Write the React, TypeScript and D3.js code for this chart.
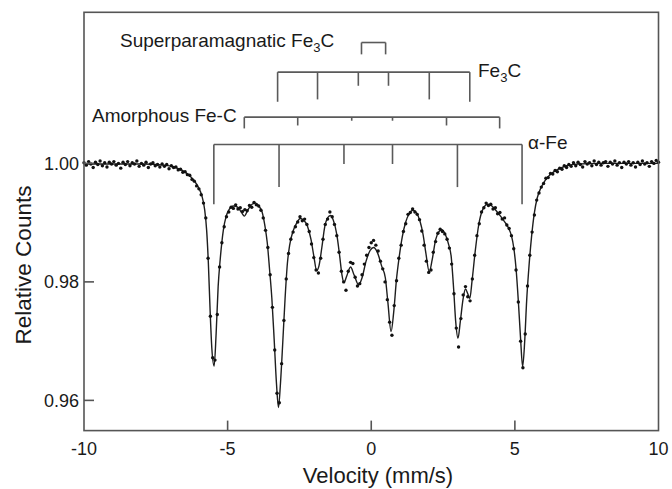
import React from 'react';
import * as d3 from 'd3';

// Velocity channels (mm/s): start + index * step
const velocityStart = -10;
const velocityStep = 0.08;

// Measured relative counts (dots), one per channel
const counts: number[] = [
  1.0001, 0.9997, 1.0003, 0.9999, 0.9993, 1.0002, 0.9998, 1.0004, 0.9996, 1.0001,
  0.9994, 1.0002, 0.9999, 1.0003, 0.9997, 1.0000, 0.9992, 1.0002, 0.9998, 1.0003,
  0.9996, 1.0001, 0.9999, 1.0004, 0.9995, 1.0000, 0.9997, 1.0002, 0.9993, 0.9999,
  1.0001, 0.9996, 0.9998, 0.9994, 0.9999, 0.9995, 0.9998, 0.9991, 0.9996, 0.9993,
  0.9994, 0.9989, 0.9990, 0.9985, 0.9986, 0.9981, 0.9980, 0.9973, 0.9970, 0.9962,
  0.9957, 0.9947, 0.9933, 0.9908, 0.9840, 0.9742, 0.9672, 0.9668, 0.9745, 0.9825,
  0.9866, 0.9893, 0.9910, 0.9918, 0.9926, 0.9924, 0.9930, 0.9923, 0.9925, 0.9919,
  0.9922, 0.9920, 0.9929, 0.9926, 0.9934, 0.9930, 0.9928, 0.9921, 0.9908, 0.9887,
  0.9858, 0.9812, 0.9757, 0.9685, 0.9612, 0.9596, 0.9662, 0.9735, 0.9805, 0.9848,
  0.9872, 0.9884, 0.9893, 0.9901, 0.9910, 0.9903, 0.9906, 0.9897, 0.9885, 0.9864,
  0.9841, 0.9820, 0.9815, 0.9840, 0.9872, 0.9897, 0.9906, 0.9918, 0.9910, 0.9897,
  0.9878, 0.9850, 0.9818, 0.9800, 0.9786, 0.9818, 0.9833, 0.9831, 0.9808, 0.9793,
  0.9797, 0.9812, 0.9830, 0.9845, 0.9858, 0.9866, 0.9870, 0.9862, 0.9852, 0.9835,
  0.9822, 0.9800, 0.9770, 0.9732, 0.9710, 0.9760, 0.9802, 0.9840, 0.9862, 0.9885,
  0.9898, 0.9914, 0.9917, 0.9923, 0.9918, 0.9914, 0.9905, 0.9886, 0.9862, 0.9835,
  0.9816, 0.9820, 0.9850, 0.9868, 0.9882, 0.9889, 0.9885, 0.9881, 0.9872, 0.9857,
  0.9830, 0.9780, 0.9722, 0.9690, 0.9738, 0.9778, 0.9792, 0.9775, 0.9768, 0.9805,
  0.9845, 0.9878, 0.9898, 0.9918, 0.9925, 0.9933, 0.9929, 0.9931, 0.9923, 0.9925,
  0.9915, 0.9917, 0.9906, 0.9908, 0.9896, 0.9890, 0.9878, 0.9856, 0.9820, 0.9766,
  0.9700, 0.9655, 0.9712, 0.9793, 0.9845, 0.9884, 0.9913, 0.9938, 0.9950, 0.9960,
  0.9966, 0.9975, 0.9976, 0.9983, 0.9982, 0.9988, 0.9986, 0.9992, 0.9990, 0.9996,
  0.9993, 0.9998, 0.9995, 1.0001, 0.9996, 1.0002, 0.9998, 0.9994, 1.0003, 0.9999,
  1.0001, 0.9996, 1.0004, 0.9998, 1.0002, 0.9997, 1.0001, 1.0003, 0.9995, 1.0002,
  0.9999, 1.0004, 0.9997, 1.0001, 0.9993, 1.0002, 0.9999, 1.0003, 0.9997, 1.0001,
  0.9994, 1.0002, 0.9998, 1.0004, 0.9999, 1.0001, 0.9995, 1.0003, 1.0000, 1.0005,
  1.0002,
];

// Fitted spectrum [velocity, relative counts]
const fitCurve: [number, number][] = [
  [-10, 0.9999], [-8, 0.9999], [-7.2, 0.9997], [-6.8, 0.9993], [-6.5, 0.9986], [-6.2, 0.9973],
  [-6.0, 0.9958], [-5.9, 0.9946], [-5.8, 0.9922], [-5.73, 0.9887], [-5.67, 0.9831], [-5.61, 0.9752],
  [-5.55, 0.9688], [-5.47, 0.9658], [-5.40, 0.9713], [-5.33, 0.9792], [-5.26, 0.9837], [-5.15, 0.9887],
  [-5.05, 0.9911], [-4.95, 0.9922], [-4.8, 0.9928], [-4.65, 0.9926], [-4.5, 0.9916], [-4.42, 0.9911],
  [-4.3, 0.9921], [-4.15, 0.9931], [-4.02, 0.9933], [-3.9, 0.9927], [-3.8, 0.9918], [-3.7, 0.9894],
  [-3.62, 0.9866], [-3.54, 0.9821], [-3.46, 0.9772], [-3.38, 0.9703], [-3.30, 0.9629], [-3.23, 0.9588],
  [-3.16, 0.9629], [-3.08, 0.9698], [-3.0, 0.9772], [-2.92, 0.9831], [-2.84, 0.9862], [-2.72, 0.9886],
  [-2.6, 0.9899], [-2.47, 0.9907], [-2.35, 0.9904], [-2.22, 0.9894], [-2.1, 0.9872], [-2.0, 0.9844],
  [-1.9, 0.9819], [-1.82, 0.9827], [-1.72, 0.9858], [-1.62, 0.9893], [-1.52, 0.9908], [-1.42, 0.9912],
  [-1.32, 0.9904], [-1.2, 0.9880], [-1.1, 0.9844], [-1.02, 0.9812], [-0.95, 0.9799], [-0.86, 0.9809],
  [-0.72, 0.9825], [-0.6, 0.9812], [-0.44, 0.9795], [-0.32, 0.9807], [-0.18, 0.9835], [-0.04, 0.9853],
  [0.08, 0.9858], [0.22, 0.9849], [0.36, 0.9827], [0.49, 0.9807], [0.58, 0.9765], [0.69, 0.9716],
  [0.78, 0.9748], [0.88, 0.9805], [0.97, 0.9841], [1.08, 0.9876], [1.2, 0.9901], [1.32, 0.9915],
  [1.45, 0.9921], [1.58, 0.9916], [1.70, 0.9902], [1.80, 0.9881], [1.90, 0.9849], [2.02, 0.9817],
  [2.12, 0.9837], [2.24, 0.9871], [2.36, 0.9885], [2.46, 0.9888], [2.58, 0.9880], [2.70, 0.9862],
  [2.78, 0.9844], [2.87, 0.9787], [2.94, 0.9733], [3.02, 0.9705], [3.10, 0.9733], [3.20, 0.9772],
  [3.28, 0.9788], [3.36, 0.9780], [3.43, 0.9772], [3.51, 0.9802], [3.62, 0.9852], [3.74, 0.9896],
  [3.88, 0.9922], [4.05, 0.9931], [4.2, 0.9928], [4.35, 0.9920], [4.5, 0.9911], [4.65, 0.9901],
  [4.78, 0.9891], [4.88, 0.9878], [4.96, 0.9858], [5.04, 0.9823], [5.12, 0.9768], [5.20, 0.9703],
  [5.27, 0.9657], [5.34, 0.9698], [5.41, 0.9768], [5.48, 0.9819], [5.58, 0.9876], [5.68, 0.9917],
  [5.78, 0.9942], [5.9, 0.9958], [6.05, 0.9971], [6.25, 0.9982], [6.5, 0.9990], [6.8, 0.9996],
  [7.2, 0.9999], [8, 1.0000], [10, 1.0000],
];

// Axis ticks
const xTicks = [-10, -5, 0, 5, 10];
const yTicks = [0.96, 0.98, 1.0];

// Component line positions (mm/s) and stick-diagram levels (relative counts)
const superparaLines = [-0.34, 0.5];
const superparaTop = 1.0204;
const superparaEnds = [1.0184, 1.0184];

const fe3cLines = [-3.26, -1.87, -0.45, 0.6, 2.02, 3.43];
const fe3cTop = 1.0154;
const fe3cEnds = [1.0104, 1.0108, 1.0131, 1.0131, 1.0108, 1.0104];

const amorphousLines = [-4.42, -2.56, -0.68, 0.74, 2.62, 4.47];
const amorphousTop = 1.0078;
const amorphousEnds = [1.0059, 1.0064, 1.0072, 1.0072, 1.0064, 1.0059];

const alphaFeLines = [-5.48, -3.21, -0.95, 0.74, 3.0, 5.25];
const alphaFeTop = 1.0032;
const alphaFeEnds = [0.9931, 0.996, 0.9999, 0.9999, 0.996, 0.9931];

const FONT = '"Liberation Sans", Arial, Helvetica, sans-serif';

export default function App() {
  const W = 672;
  const H = 489;
  const x = d3.scaleLinear().domain([-10, 10]).range([84, 658.5]);
  const y = d3.scaleLinear().domain([0.9549, 1.0255]).range([430.6, 12.3]);

  const line = d3
    .line<[number, number]>()
    .x((d) => x(d[0]))
    .y((d) => y(d[1]))
    .curve(d3.curveMonotoneX);

  const dots = counts.map((c, i) => [velocityStart + i * velocityStep, c] as [number, number]);

  const stick = (lines: number[], top: number, ends: number[], key: string) => {
    const x0 = x(lines[0]);
    const x1 = x(lines[lines.length - 1]);
    const yt = y(top);
    return (
      <g key={key} stroke="#5a5a5a" strokeWidth={1.6} fill="none">
        <line x1={x0} x2={x1} y1={yt} y2={yt} />
        {lines.map((v, i) => (
          <line key={i} x1={x(v)} x2={x(v)} y1={yt} y2={y(ends[i])} />
        ))}
      </g>
    );
  };

  const [xl, xr] = x.range();
  const [yb, yt] = y.range();

  return (
    <svg
      width={W}
      height={H}
      style={{ position: 'absolute', left: 0, top: 0, background: '#fff' }}
      fontFamily={FONT}
    >
      <rect x={0} y={0} width={W} height={H} fill="#fff" />

      {/* fit line */}
      <path d={line(fitCurve) || ''} fill="none" stroke="#1e1e1e" strokeWidth={1.4} />

      {/* data dots */}
      <g fill="#111">
        {dots.map((d, i) => (
          <circle key={i} cx={x(d[0])} cy={y(d[1])} r={1.7} />
        ))}
      </g>

      {/* frame */}
      <rect
        x={xl}
        y={yt}
        width={xr - xl}
        height={yb - yt}
        fill="none"
        stroke="#555"
        strokeWidth={1.6}
      />

      {/* ticks */}
      <g stroke="#555" strokeWidth={1.6}>
        {xTicks
          .filter((t) => t !== -10 && t !== 10)
          .map((t) => (
            <line key={t} x1={x(t)} x2={x(t)} y1={yb} y2={yb - 10} />
          ))}
        {yTicks.map((t) => (
          <line key={t} x1={xl} x2={xl + 10} y1={y(t)} y2={y(t)} />
        ))}
      </g>
      <g fontSize={18} fill="#1a1a1a" textAnchor="middle">
        {xTicks.map((t) => (
          <text key={t} x={x(t)} y={455}>
            {t}
          </text>
        ))}
      </g>
      <g fontSize={18} fill="#1a1a1a" textAnchor="end">
        {yTicks.map((t) => (
          <text key={t} x={79} y={y(t)} dy="0.35em">
            {t.toFixed(2)}
          </text>
        ))}
      </g>

      {/* axis titles */}
      <text x={378} y={483} fontSize={22} textAnchor="middle" fill="#1a1a1a">
        Velocity (mm/s)
      </text>
      <text
        transform="translate(31,265) rotate(-90)"
        fontSize={22.5}
        textAnchor="middle"
        fill="#1a1a1a"
      >
        Relative Counts
      </text>

      {/* stick diagrams */}
      {stick(superparaLines, superparaTop, superparaEnds, 'sp')}
      {stick(fe3cLines, fe3cTop, fe3cEnds, 'fe3c')}
      {stick(amorphousLines, amorphousTop, amorphousEnds, 'am')}
      {stick(alphaFeLines, alphaFeTop, alphaFeEnds, 'afe')}

      {/* labels */}
      <g fontSize={19} fill="#1a1a1a">
        <text x={120} y={47}>
          Superparamagnatic Fe
          <tspan fontSize={13} dy={5}>3</tspan>
          <tspan dy={-5}>C</tspan>
        </text>
        <text x={478} y={77}>
          Fe
          <tspan fontSize={13} dy={5}>3</tspan>
          <tspan dy={-5}>C</tspan>
        </text>
        <text x={92} y={122}>Amorphous Fe-C</text>
        <text x={528} y={149}>α-Fe</text>
      </g>
    </svg>
  );
}
